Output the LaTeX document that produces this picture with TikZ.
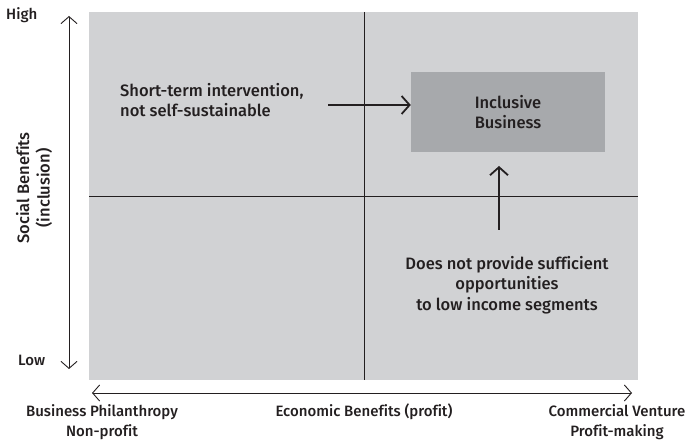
\documentclass[tikz,border=0pt]{standalone}
\usepackage{fontspec}
\setmainfont{Fira Sans Medium}[Ligatures=NoCommon]
\usetikzlibrary{arrows.meta}
\definecolor{bg}{HTML}{D1D2D4}
\definecolor{boxc}{HTML}{A7A9AC}
\definecolor{ink}{HTML}{231F20}
\begin{document}
\begin{tikzpicture}[x=1pt,y=-1pt,
  txt/.style={text=ink,font=\fontsize{15}{20.5}\selectfont,inner sep=0pt,align=center},
  big/.style={txt,font=\fontsize{16.5}{20.5}\selectfont},
  axis/.style={draw=ink,line width=0.9pt,{Straight Barb[length=7pt,width=16pt]}-{Straight Barb[length=7pt,width=16pt]}},
  quad/.style={draw=ink,line width=1pt},
  pointer/.style={draw=ink,line width=1.8pt,-{Straight Barb[length=8pt,width=18pt,line width=1.8pt]}}]
\useasboundingbox (0,0) rectangle (688,443);
\fill[bg] (89,12) rectangle (638,380);
\node[fill=boxc,minimum width=194pt,minimum height=80pt,inner sep=0pt] (ib) at (508,112) {};
\node[big] at (ib) {Inclusive\\Business};
% quadrant lines
\coordinate (vt) at (364,12); \coordinate (vb) at (364,380);
\coordinate (hl) at (89,197); \coordinate (hr) at (638,197);
\draw[quad] (vt) -- (vb);
\draw[quad] (hl) -- (hr);
% axes
\coordinate (yt) at (69,16); \coordinate (yb) at (69,369);
\draw[axis] (yb) -- (yt);
\coordinate (xl) at (92,393); \coordinate (xr) at (632,393);
\draw[axis] (xl) -- (xr);
% labels
\node[txt,anchor=west] (high) at (6,15) {High};
\node[txt,anchor=west] (low) at (18,360) {Low};
\node[big,rotate=90] (soc) at (34,188) {Social Benefits\\(inclusion)};
\node[txt] (bp) at (102,422) {Business Philanthropy\\Non-profit};
\node[txt] (cv) at (617,422) {Commercial Venture\\Profit-making};
\node[txt] (eb) at (364,412) {Economic Benefits (profit)};
% annotations
\node[big,align=left,anchor=west] (st) at (120,100) {Short-term intervention,\\not self-sustainable};
\node[big] (dn) at (507,285) {Does not provide sufficient\\opportunities\\to low income segments};
\coordinate (a1) at (328,105);
\draw[pointer] (a1) -- (ib.west |- a1);
\coordinate (a2) at (499,230);
\draw[pointer] (a2) -- (a2 |- 0,166);
\end{tikzpicture}
\end{document}
